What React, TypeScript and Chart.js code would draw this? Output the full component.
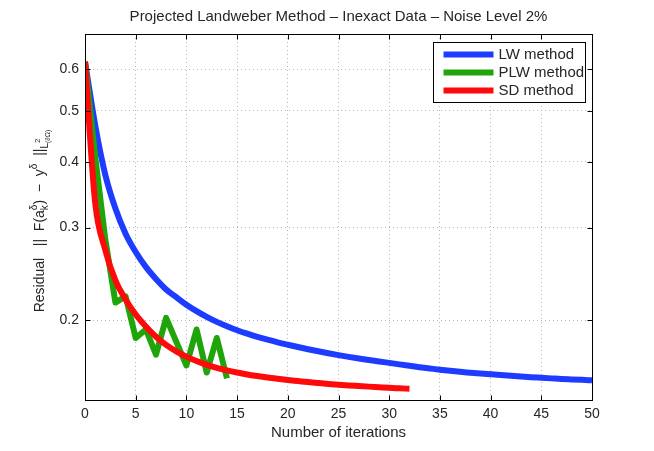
import { useEffect, useRef } from "react";
import { Chart, registerables } from "chart.js";
import type { Plugin } from "chart.js";

Chart.register(...registerables);

const chartTitle = "Projected Landweber Method – Inexact Data – Noise Level 2%";
const xTitle = "Number of iterations";
const seriesNames = ["LW method", "PLW method", "SD method"];
const seriesColors = ["#1e3cff", "#1fa50a", "#ff0a0a"];

// residual after each iteration, iteration 0 first
const lwResidual = [
  0.62, 0.47, 0.378, 0.326, 0.292, 0.2695, 0.2525, 0.2395, 0.2288, 0.2212,
  0.214, 0.208, 0.2029, 0.1985, 0.1947, 0.1914, 0.1885, 0.1859, 0.1836,
  0.1815, 0.1796, 0.1778, 0.1761, 0.1745, 0.173, 0.1716, 0.1703, 0.1691,
  0.168, 0.1669, 0.1659, 0.1648, 0.1638, 0.1628, 0.1619, 0.161, 0.1602,
  0.1595, 0.1589, 0.1583, 0.1578, 0.1573, 0.1568, 0.1563, 0.1558, 0.1554,
  0.155, 0.1546, 0.1543, 0.154, 0.1537,
];
const plwResidual = [
  0.62, 0.41, 0.285, 0.216, 0.222, 0.185, 0.192, 0.172, 0.202, 0.182, 0.164,
  0.192, 0.159, 0.185, 0.155,
];
const sdResidual = [
  0.62, 0.335, 0.272, 0.238, 0.219, 0.205, 0.1945, 0.186, 0.1795, 0.1745,
  0.1705, 0.1672, 0.1645, 0.1623, 0.1605, 0.159, 0.1577, 0.1566, 0.1556,
  0.1547, 0.1539, 0.1532, 0.1525, 0.1519, 0.1513, 0.1508, 0.1503, 0.1499,
  0.1495, 0.1491, 0.1487, 0.1484, 0.1481,
];

const xTicks = [0, 5, 10, 15, 20, 25, 30, 35, 40, 45, 50];
const yTicks = [0.2, 0.3, 0.4, 0.5, 0.6];

const FONT = '"Liberation Sans", Arial, sans-serif';
const INK = "#262626";

const toPoints = (values: number[]) => values.map((y, k) => ({ x: k, y }));

// box, inward ticks, legend and texts drawn the way MATLAB does it
const matlabDecor: Plugin<"line"> = {
  id: "matlabDecor",
  afterDraw(chart) {
    const { ctx, chartArea: a } = chart;
    const xs = chart.scales.x;
    const ys = chart.scales.y;
    const L = Math.round(a.left) + 0.5;
    const R = Math.round(a.right) + 0.5;
    const T = Math.round(a.top) + 0.5;
    const B = Math.round(a.bottom) + 0.5;
    ctx.save();

    ctx.strokeStyle = "#000";
    ctx.lineWidth = 1;
    ctx.strokeRect(L, T, R - L, B - T);
    ctx.beginPath();
    for (const v of xTicks) {
      const px = Math.round(xs.getPixelForValue(v)) + 0.5;
      ctx.moveTo(px, B);
      ctx.lineTo(px, B - 5);
      ctx.moveTo(px, T);
      ctx.lineTo(px, T + 5);
    }
    for (const v of yTicks) {
      const py = Math.round(ys.getPixelForValue(v)) + 0.5;
      ctx.moveTo(L, py);
      ctx.lineTo(L + 5, py);
      ctx.moveTo(R, py);
      ctx.lineTo(R - 5, py);
    }
    ctx.stroke();

    // legend
    const boxR = R - 7;
    const boxL = boxR - 152;
    const boxT = T + 8;
    ctx.fillStyle = "#fff";
    ctx.fillRect(boxL, boxT, 152, 60);
    ctx.strokeRect(boxL, boxT, 152, 60);
    ctx.font = `15px ${FONT}`;
    ctx.textBaseline = "middle";
    ctx.textAlign = "left";
    seriesNames.forEach((name, i) => {
      const cy = boxT + 12 + i * 18;
      ctx.strokeStyle = seriesColors[i];
      ctx.lineWidth = 6;
      ctx.beginPath();
      ctx.moveTo(boxL + 10, cy);
      ctx.lineTo(boxL + 60, cy);
      ctx.stroke();
      ctx.fillStyle = INK;
      ctx.fillText(name, boxL + 65, cy);
    });

    // titles
    const cx = (a.left + a.right) / 2;
    ctx.fillStyle = INK;
    ctx.textAlign = "center";
    ctx.font = `15px ${FONT}`;
    ctx.fillText(chartTitle, cx, 17);
    ctx.fillText(xTitle, cx, 433);

    // y label with sub/superscripts
    const parts = [
      { text: "Residual", size: 14, rise: 0, keep: false },
      { text: "   ||  F(a", size: 14, rise: 0, keep: false },
      { text: "δ", size: 10, rise: 7, keep: true },
      { text: "k", size: 10, rise: -4, keep: false },
      { text: ")  −  y", size: 14, rise: 0, keep: false },
      { text: "δ", size: 10, rise: 7, keep: false },
      { text: "  ||", size: 14, rise: 0, keep: false },
      { text: "L", size: 10, rise: -4, keep: false },
      { text: "2", size: 8, rise: 4, keep: true },
      { text: "(∂Ω)", size: 7, rise: -6, keep: false },
    ];
    const widths = parts.map((p) => {
      ctx.font = `${p.size}px ${FONT}`;
      return ctx.measureText(p.text).width;
    });
    let total = 0;
    let held = 0;
    parts.forEach((p, i) => {
      if (p.keep) held = widths[i];
      else {
        total += Math.max(held, widths[i]);
        held = 0;
      }
    });
    ctx.translate(44, (a.top + a.bottom) / 2 + 4);
    ctx.rotate(-Math.PI / 2);
    ctx.textAlign = "left";
    ctx.textBaseline = "alphabetic";
    let pos = -total / 2;
    held = 0;
    parts.forEach((p, i) => {
      ctx.font = `${p.size}px ${FONT}`;
      ctx.fillText(p.text, pos, -p.rise);
      if (p.keep) held = widths[i];
      else {
        pos += Math.max(held, widths[i]);
        held = 0;
      }
    });

    ctx.restore();
  },
};

export default function App() {
  const canvasRef = useRef<HTMLCanvasElement>(null);
  const chartRef = useRef<Chart | null>(null);

  useEffect(() => {
    document.body.style.margin = "0";
    if (!canvasRef.current) return;
    if (chartRef.current) chartRef.current.destroy();

    const grid = {
      color: "#b8b8b8",
      lineWidth: 1,
      drawTicks: false,
    };
    const border = { display: false, dash: [1, 3] };

    chartRef.current = new Chart(canvasRef.current, {
      type: "line",
      data: {
        datasets: [
          {
            label: seriesNames[0],
            data: toPoints(lwResidual),
            borderColor: seriesColors[0],
            cubicInterpolationMode: "monotone",
            order: 2,
          },
          {
            label: seriesNames[1],
            data: toPoints(plwResidual),
            borderColor: seriesColors[1],
            order: 1,
          },
          {
            label: seriesNames[2],
            data: toPoints(sdResidual),
            borderColor: seriesColors[2],
            cubicInterpolationMode: "monotone",
            order: 0,
          },
        ],
      },
      options: {
        animation: false,
        responsive: true,
        maintainAspectRatio: false,
        layout: { padding: { top: 34, right: 62, left: 0, bottom: 0 } },
        elements: {
          line: {
            borderWidth: 6,
            tension: 0,
            borderJoinStyle: "round",
            borderCapStyle: "butt",
          },
          point: { radius: 0, hoverRadius: 0 },
        },
        plugins: {
          legend: { display: false },
          title: { display: false },
          tooltip: { enabled: false },
        },
        scales: {
          x: {
            type: "linear",
            min: 0,
            max: 50,
            afterFit: (s) => {
              s.height = 51;
            },
            afterBuildTicks: (s) => {
              s.ticks = xTicks.map((value) => ({ value }));
            },
            ticks: {
              color: INK,
              font: { family: FONT, size: 14 },
              padding: 6,
              maxRotation: 0,
              autoSkip: false,
            },
            grid,
            border,
          },
          y: {
            type: "logarithmic",
            min: 0.141,
            max: 0.7,
            afterFit: (s) => {
              s.width = 85;
            },
            afterBuildTicks: (s) => {
              s.ticks = yTicks.map((value) => ({ value }));
            },
            ticks: {
              color: INK,
              font: { family: FONT, size: 14 },
              padding: 6,
              autoSkip: false,
              callback: (v) => Number(v).toFixed(1),
            },
            grid,
            border,
          },
        },
      },
      plugins: [matlabDecor],
    });

    return () => {
      if (chartRef.current) {
        chartRef.current.destroy();
        chartRef.current = null;
      }
    };
  }, []);

  return (
    <div style={{ width: 654, height: 451, background: "#fff" }}>
      <canvas ref={canvasRef}></canvas>
    </div>
  );
}
